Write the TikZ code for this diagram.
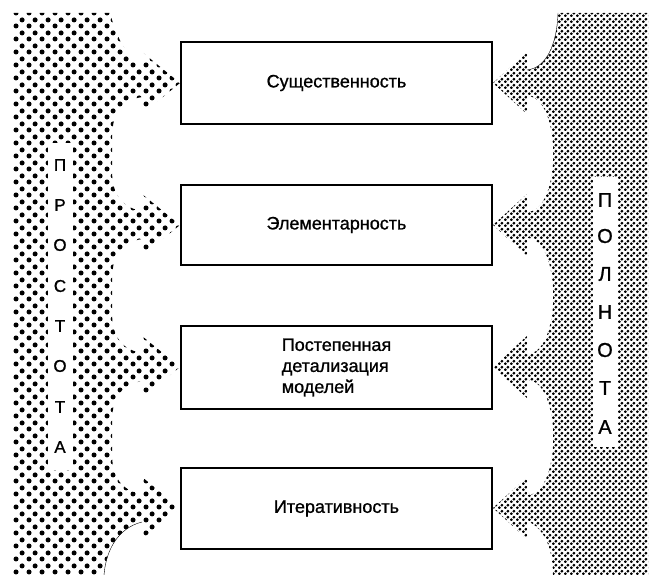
\documentclass[tikz,border=0pt]{standalone}
\usepackage{fontspec}
\setmainfont{Liberation Sans}
\newfontfamily\inkfont{Liberation Sans}[FakeBold=1]
\usetikzlibrary{patterns}

% halftone screens
\pgfdeclarepatternformonly{coarse dots}{\pgfpointorigin}{\pgfpoint{13pt}{13pt}}{\pgfpoint{13pt}{13pt}}{%
  \pgfpathcircle{\pgfpoint{3.25pt}{3.25pt}}{2.7pt}%
  \pgfpathcircle{\pgfpoint{9.75pt}{9.75pt}}{2.7pt}%
  \pgfusepath{fill}}
\pgfdeclarepatternformonly{fine dots}{\pgfpointorigin}{\pgfpoint{6pt}{6pt}}{\pgfpoint{6pt}{6pt}}{%
  \pgfpathcircle{\pgfpoint{1.5pt}{1.5pt}}{1.75pt}%
  \pgfpathcircle{\pgfpoint{4.5pt}{4.5pt}}{1.75pt}%
  \pgfusepath{fill}}

\begin{document}
\begin{tikzpicture}[x=1pt,y=-1pt]
\useasboundingbox (0,0) rectangle (651,575);
% left band with four arrows
\fill[pattern=coarse dots] (13,13) -- (110,13) .. controls (116,35) and (125,55) .. (142,69)
  -- (142,52) -- (180,83) -- (142,114) -- (142,97)
  .. controls (118,101) and (112,118) .. (112,138) -- (112,170) .. controls (112,190) and (118,207) .. (142,211)
  -- (142,194) -- (180,225) -- (142,256) -- (142,239)
  .. controls (118,243) and (112,260) .. (112,280) -- (112,312) .. controls (112,332) and (118,349) .. (142,353)
  -- (142,336) -- (180,367) -- (142,398) -- (142,381)
  .. controls (118,385) and (112,402) .. (112,422) -- (112,453) .. controls (112,473) and (118,490) .. (142,494)
  -- (142,477) -- (180,508) -- (142,539) -- (142,522)
  .. controls (118,528) and (106,550) .. (104,575) -- (13,575) -- cycle;
\draw[thin] (142,522) .. controls (118,528) and (106,550) .. (104,575);
% right band with four arrows
\fill[pattern=fine dots] (648,13) -- (558,13) .. controls (557,45) and (546,68) .. (527,70)
  -- (527,52) -- (493,83) -- (527,114) -- (527,96)
  .. controls (562,96) and (562,212) .. (527,212)
  -- (527,194) -- (493,225) -- (527,256) -- (527,238)
  .. controls (562,238) and (562,354) .. (527,354)
  -- (527,336) -- (493,367) -- (527,398) -- (527,380)
  .. controls (562,380) and (562,495) .. (527,495)
  -- (527,477) -- (493,508) -- (527,539) -- (527,521)
  .. controls (545,528) and (553,550) .. (553,575) -- (648,575) -- cycle;
\draw[thin] (558,13) .. controls (557,45) and (546,68) .. (527,70);
% white strips
\fill[white] (48,143) rectangle (73,470);
\fill[white] (593,177) rectangle (618,447);
\node[font=\inkfont\fontsize{17}{17}\selectfont] (l1) at (60,165) {П};
\node[font=\inkfont\fontsize{17}{17}\selectfont] (l2) at (60,205) {Р};
\node[font=\inkfont\fontsize{17}{17}\selectfont] (l3) at (60,245) {О};
\node[font=\inkfont\fontsize{17}{17}\selectfont] (l4) at (60,286) {С};
\node[font=\inkfont\fontsize{17}{17}\selectfont] (l5) at (60,326) {Т};
\node[font=\inkfont\fontsize{17}{17}\selectfont] (l6) at (60,366) {О};
\node[font=\inkfont\fontsize{17}{17}\selectfont] (l7) at (60,407) {Т};
\node[font=\inkfont\fontsize{17}{17}\selectfont] (l8) at (60,447) {А};
\node[font=\inkfont\fontsize{20}{20}\selectfont] (r1) at (605,200) {П};
\node[font=\inkfont\fontsize{20}{20}\selectfont] (r2) at (605,236) {О};
\node[font=\inkfont\fontsize{20}{20}\selectfont] (r3) at (605,274) {Л};
\node[font=\inkfont\fontsize{20}{20}\selectfont] (r4) at (605,312) {Н};
\node[font=\inkfont\fontsize{20}{20}\selectfont] (r5) at (605,350) {О};
\node[font=\inkfont\fontsize{20}{20}\selectfont] (r6) at (605,388) {Т};
\node[font=\inkfont\fontsize{20}{20}\selectfont] (r7) at (605,427) {А};
% principle boxes
\node[draw,line width=2.2pt,minimum width=311pt,minimum height=82pt,font=\inkfont\fontsize{18}{21}\selectfont] (ess) at (336.5,83) {Существенность};
\node[draw,line width=2.2pt,minimum width=311pt,minimum height=80pt,font=\inkfont\fontsize{18}{21}\selectfont] (elem) at (336.5,225) {Элементарность};
\node[draw,line width=2.2pt,minimum width=311pt,minimum height=83pt,font=\inkfont\fontsize{18}{21}\selectfont,align=left] (detail) at (336.5,367.5) {Постепенная\\детализация\\моделей};
\node[draw,line width=2.2pt,minimum width=311pt,minimum height=81pt,font=\inkfont\fontsize{18}{21}\selectfont] (iter) at (336.5,508.5) {Итеративность};
\end{tikzpicture}
\end{document}
